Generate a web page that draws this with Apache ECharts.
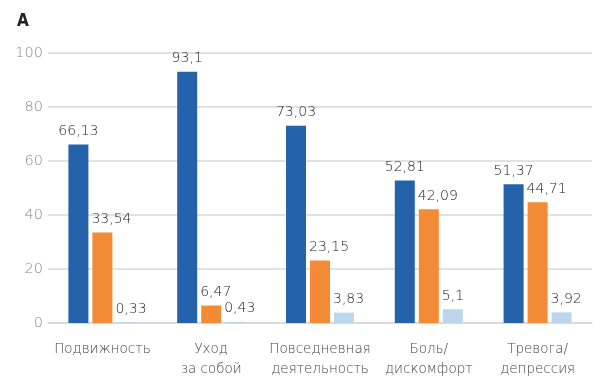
<!DOCTYPE html>
<html><head><meta charset="utf-8">
<script src="https://cdn.jsdelivr.net/npm/echarts@6/dist/echarts.min.js"></script>
<style>html,body{margin:0;padding:0;background:#fff}#c{width:600px;height:384px}</style>
</head><body><div id="c"></div>
<script>
const categories = ['Подвижность', 'Уход\nза собой', 'Повседневная\nдеятельность', 'Боль/\nдискомфорт', 'Тревога/\nдепрессия'];
const series1 = [66.13, 93.1, 73.03, 52.81, 51.37];
const series2 = [33.54, 6.47, 23.15, 42.09, 44.71];
const series3 = [0.33, 0.43, 3.83, 5.1, 3.92];
const yTicks = [0, 20, 40, 60, 80, 100];
const colors = ['#2462AC', '#F28A36', '#BCD6EE'];
const FONT = 'DejaVu Sans';
const fmt = p => String(p.value).replace('.', ',');
const mk = (data, i) => ({
  type: 'bar', data, barWidth: 20, barGap: '20%',
  itemStyle: { color: colors[i] },
  label: Object.assign(
    { show: true, position: 'top', distance: 6, formatter: fmt, color: '#222', fontSize: 14, fontWeight: 200, fontFamily: FONT },
    i === 0 ? {} : { align: 'left', offset: [-11, 0] }
  ),
  animation: false
});
const chart = echarts.init(document.getElementById('c'), null, { renderer: 'canvas' });
chart.setOption({
  animation: false,
  title: { text: 'А', left: 12, top: 8, textStyle: { fontSize: 17, fontWeight: 'bold', color: '#222', fontFamily: 'Liberation Sans Narrow, DejaVu Sans Condensed' } },
  grid: { left: 48, right: 8, top: 53, bottom: 61 },
  xAxis: {
    type: 'category', data: categories,
    axisLine: { show: true, lineStyle: { color: '#d9d9d9', width: 1.5 } },
    axisTick: { show: false },
    axisLabel: { color: '#444', fontSize: 13.5, fontWeight: 200, lineHeight: 20, margin: 16, fontFamily: FONT, interval: 0 }
  },
  yAxis: {
    type: 'value', min: yTicks[0], max: yTicks[yTicks.length - 1], interval: 20,
    axisLine: { show: false }, axisTick: { show: false },
    splitLine: { lineStyle: { color: '#d9d9d9', width: 1.5 } },
    axisLabel: { color: '#888', fontSize: 14.5, fontWeight: 200, margin: 5, fontFamily: FONT }
  },
  series: [mk(series1, 0), mk(series2, 1), mk(series3, 2)]
});
</script></body></html>
